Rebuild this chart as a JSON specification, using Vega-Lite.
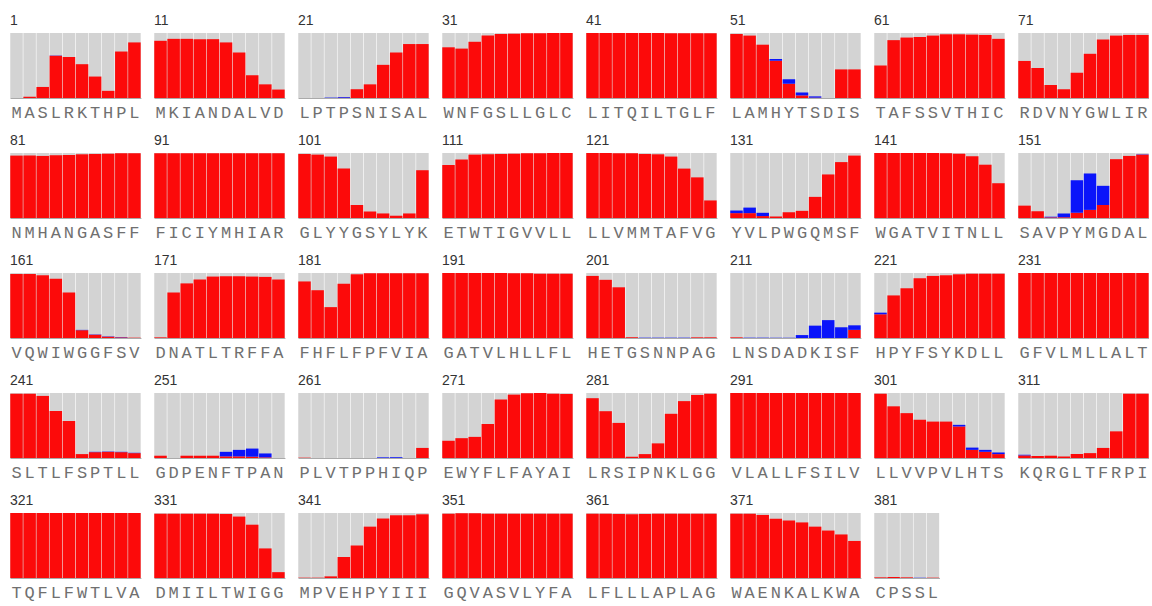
{
"$schema": "https://vega.github.io/schema/vega-lite/v6.json",
"padding": {"left": 10, "top": 14, "right": 0, "bottom": 2},
"background": "white",
"config": {"view": {"stroke": null}},
"data": {"values": [
{"k":"001M","g":1,"r":0,"b":0},{"k":"002A","g":1,"r":0.02,"b":0},{"k":"003S","g":1,"r":0.17,"b":0},{"k":"004L","g":1,"r":0.65,"b":0.005},{"k":"005R","g":1,"r":0.63,"b":0},{"k":"006K","g":1,"r":0.52,"b":0},{"k":"007T","g":1,"r":0.33,"b":0},{"k":"008H","g":1,"r":0.11,"b":0},{"k":"009P","g":1,"r":0.715,"b":0},{"k":"010L","g":1,"r":0.855,"b":0},
{"k":"011M","g":11,"r":0.88,"b":0},{"k":"012K","g":11,"r":0.91,"b":0},{"k":"013I","g":11,"r":0.91,"b":0},{"k":"014A","g":11,"r":0.905,"b":0},{"k":"015N","g":11,"r":0.905,"b":0},{"k":"016D","g":11,"r":0.855,"b":0},{"k":"017A","g":11,"r":0.7,"b":0},{"k":"018L","g":11,"r":0.35,"b":0},{"k":"019V","g":11,"r":0.21,"b":0},{"k":"020D","g":11,"r":0.13,"b":0},
{"k":"021L","g":21,"r":0,"b":0},{"k":"022P","g":21,"r":0,"b":0},{"k":"023T","g":21,"r":0,"b":0.006},{"k":"024P","g":21,"r":0.005,"b":0.01},{"k":"025S","g":21,"r":0.135,"b":0},{"k":"026N","g":21,"r":0.21,"b":0},{"k":"027I","g":21,"r":0.51,"b":0},{"k":"028S","g":21,"r":0.7,"b":0},{"k":"029A","g":21,"r":0.83,"b":0},{"k":"030L","g":21,"r":0.83,"b":0},
{"k":"031W","g":31,"r":0.78,"b":0},{"k":"032N","g":31,"r":0.76,"b":0},{"k":"033F","g":31,"r":0.865,"b":0},{"k":"034G","g":31,"r":0.96,"b":0},{"k":"035S","g":31,"r":0.985,"b":0},{"k":"036L","g":31,"r":0.99,"b":0},{"k":"037L","g":31,"r":0.995,"b":0},{"k":"038G","g":31,"r":0.995,"b":0},{"k":"039L","g":31,"r":1,"b":0},{"k":"040C","g":31,"r":1,"b":0},
{"k":"041L","g":41,"r":1,"b":0},{"k":"042I","g":41,"r":1,"b":0},{"k":"043T","g":41,"r":1,"b":0},{"k":"044Q","g":41,"r":1,"b":0},{"k":"045I","g":41,"r":1,"b":0},{"k":"046L","g":41,"r":1,"b":0},{"k":"047T","g":41,"r":0.995,"b":0},{"k":"048G","g":41,"r":0.995,"b":0},{"k":"049L","g":41,"r":0.995,"b":0},{"k":"050F","g":41,"r":0.995,"b":0},
{"k":"051L","g":51,"r":0.985,"b":0},{"k":"052A","g":51,"r":0.96,"b":0},{"k":"053M","g":51,"r":0.82,"b":0},{"k":"054H","g":51,"r":0.575,"b":0.025},{"k":"055Y","g":51,"r":0.22,"b":0.07},{"k":"056T","g":51,"r":0.04,"b":0.045},{"k":"057S","g":51,"r":0.005,"b":0.02},{"k":"058D","g":51,"r":0,"b":0},{"k":"059I","g":51,"r":0.44,"b":0},{"k":"060S","g":51,"r":0.44,"b":0},
{"k":"061T","g":61,"r":0.5,"b":0},{"k":"062A","g":61,"r":0.89,"b":0},{"k":"063F","g":61,"r":0.93,"b":0},{"k":"064S","g":61,"r":0.94,"b":0},{"k":"065S","g":61,"r":0.96,"b":0},{"k":"066V","g":61,"r":0.98,"b":0},{"k":"067T","g":61,"r":0.98,"b":0},{"k":"068H","g":61,"r":0.975,"b":0},{"k":"069I","g":61,"r":0.97,"b":0},{"k":"070C","g":61,"r":0.91,"b":0},
{"k":"071R","g":71,"r":0.57,"b":0},{"k":"072D","g":71,"r":0.46,"b":0},{"k":"073V","g":71,"r":0.2,"b":0},{"k":"074N","g":71,"r":0.135,"b":0},{"k":"075Y","g":71,"r":0.39,"b":0},{"k":"076G","g":71,"r":0.68,"b":0},{"k":"077W","g":71,"r":0.9,"b":0},{"k":"078L","g":71,"r":0.96,"b":0},{"k":"079I","g":71,"r":0.97,"b":0},{"k":"080R","g":71,"r":0.97,"b":0},
{"k":"081N","g":81,"r":0.96,"b":0},{"k":"082M","g":81,"r":0.96,"b":0},{"k":"083H","g":81,"r":0.955,"b":0},{"k":"084A","g":81,"r":0.965,"b":0},{"k":"085N","g":81,"r":0.97,"b":0},{"k":"086G","g":81,"r":0.98,"b":0},{"k":"087A","g":81,"r":0.985,"b":0},{"k":"088S","g":81,"r":0.99,"b":0},{"k":"089F","g":81,"r":0.995,"b":0},{"k":"090F","g":81,"r":0.995,"b":0},
{"k":"091F","g":91,"r":0.995,"b":0},{"k":"092I","g":91,"r":0.995,"b":0},{"k":"093C","g":91,"r":0.995,"b":0},{"k":"094I","g":91,"r":0.995,"b":0},{"k":"095Y","g":91,"r":0.995,"b":0},{"k":"096M","g":91,"r":0.995,"b":0},{"k":"097H","g":91,"r":0.995,"b":0},{"k":"098I","g":91,"r":0.995,"b":0},{"k":"099A","g":91,"r":0.995,"b":0},{"k":"100R","g":91,"r":0.995,"b":0},
{"k":"101G","g":101,"r":0.985,"b":0},{"k":"102L","g":101,"r":0.975,"b":0},{"k":"103Y","g":101,"r":0.945,"b":0},{"k":"104Y","g":101,"r":0.76,"b":0},{"k":"105G","g":101,"r":0.2,"b":0},{"k":"106S","g":101,"r":0.1,"b":0},{"k":"107Y","g":101,"r":0.07,"b":0},{"k":"108L","g":101,"r":0.035,"b":0},{"k":"109Y","g":101,"r":0.07,"b":0},{"k":"110K","g":101,"r":0.735,"b":0},
{"k":"111E","g":111,"r":0.815,"b":0},{"k":"112T","g":111,"r":0.9,"b":0},{"k":"113W","g":111,"r":0.975,"b":0},{"k":"114T","g":111,"r":0.98,"b":0},{"k":"115I","g":111,"r":0.985,"b":0},{"k":"116G","g":111,"r":0.99,"b":0},{"k":"117V","g":111,"r":0.995,"b":0},{"k":"118V","g":111,"r":0.995,"b":0},{"k":"119L","g":111,"r":1,"b":0},{"k":"120L","g":111,"r":1,"b":0},
{"k":"121L","g":121,"r":1,"b":0},{"k":"122L","g":121,"r":1,"b":0},{"k":"123V","g":121,"r":0.995,"b":0},{"k":"124M","g":121,"r":0.995,"b":0},{"k":"125M","g":121,"r":0.985,"b":0},{"k":"126T","g":121,"r":0.98,"b":0},{"k":"127A","g":121,"r":0.945,"b":0},{"k":"128F","g":121,"r":0.76,"b":0},{"k":"129V","g":121,"r":0.625,"b":0},{"k":"130G","g":121,"r":0.27,"b":0},
{"k":"131Y","g":131,"r":0.075,"b":0.04},{"k":"132V","g":131,"r":0.075,"b":0.085},{"k":"133L","g":131,"r":0.03,"b":0.05},{"k":"134P","g":131,"r":0.025,"b":0},{"k":"135W","g":131,"r":0.09,"b":0},{"k":"136G","g":131,"r":0.11,"b":0},{"k":"137Q","g":131,"r":0.325,"b":0},{"k":"138M","g":131,"r":0.67,"b":0},{"k":"139S","g":131,"r":0.86,"b":0},{"k":"140F","g":131,"r":0.96,"b":0},
{"k":"141W","g":141,"r":1,"b":0},{"k":"142G","g":141,"r":1,"b":0},{"k":"143A","g":141,"r":1,"b":0},{"k":"144T","g":141,"r":1,"b":0},{"k":"145V","g":141,"r":1,"b":0},{"k":"146I","g":141,"r":0.995,"b":0},{"k":"147T","g":141,"r":0.99,"b":0},{"k":"148N","g":141,"r":0.95,"b":0},{"k":"149L","g":141,"r":0.82,"b":0},{"k":"150L","g":141,"r":0.535,"b":0},
{"k":"151S","g":151,"r":0.19,"b":0},{"k":"152A","g":151,"r":0.105,"b":0},{"k":"153V","g":151,"r":0.01,"b":0.01},{"k":"154P","g":151,"r":0.01,"b":0.06},{"k":"155Y","g":151,"r":0.08,"b":0.5},{"k":"156M","g":151,"r":0.125,"b":0.56},{"k":"157G","g":151,"r":0.2,"b":0.295},{"k":"158D","g":151,"r":0.905,"b":0},{"k":"159A","g":151,"r":0.955,"b":0},{"k":"160L","g":151,"r":0.975,"b":0.005},
{"k":"161V","g":161,"r":0.985,"b":0},{"k":"162Q","g":161,"r":0.985,"b":0},{"k":"163W","g":161,"r":0.965,"b":0},{"k":"164I","g":161,"r":0.91,"b":0},{"k":"165W","g":161,"r":0.7,"b":0},{"k":"166G","g":161,"r":0.12,"b":0.005},{"k":"167G","g":161,"r":0.05,"b":0.005},{"k":"168F","g":161,"r":0.02,"b":0.005},{"k":"169S","g":161,"r":0.01,"b":0.005},{"k":"170V","g":161,"r":0.005,"b":0},
{"k":"171D","g":171,"r":0.01,"b":0},{"k":"172N","g":171,"r":0.7,"b":0},{"k":"173A","g":171,"r":0.84,"b":0},{"k":"174T","g":171,"r":0.9,"b":0},{"k":"175L","g":171,"r":0.945,"b":0},{"k":"176T","g":171,"r":0.95,"b":0},{"k":"177R","g":171,"r":0.95,"b":0},{"k":"178F","g":171,"r":0.945,"b":0},{"k":"179F","g":171,"r":0.94,"b":0},{"k":"180A","g":171,"r":0.9,"b":0},
{"k":"181F","g":181,"r":0.87,"b":0},{"k":"182H","g":181,"r":0.735,"b":0},{"k":"183F","g":181,"r":0.475,"b":0},{"k":"184L","g":181,"r":0.835,"b":0},{"k":"185F","g":181,"r":0.98,"b":0},{"k":"186P","g":181,"r":0.995,"b":0},{"k":"187F","g":181,"r":0.995,"b":0},{"k":"188V","g":181,"r":0.995,"b":0},{"k":"189I","g":181,"r":0.995,"b":0},{"k":"190A","g":181,"r":0.995,"b":0},
{"k":"191G","g":191,"r":1,"b":0},{"k":"192A","g":191,"r":1,"b":0},{"k":"193T","g":191,"r":1,"b":0},{"k":"194V","g":191,"r":1,"b":0},{"k":"195L","g":191,"r":1,"b":0},{"k":"196H","g":191,"r":0.995,"b":0},{"k":"197L","g":191,"r":0.995,"b":0},{"k":"198L","g":191,"r":0.99,"b":0},{"k":"199F","g":191,"r":0.99,"b":0},{"k":"200L","g":191,"r":0.99,"b":0},
{"k":"201H","g":201,"r":0.955,"b":0},{"k":"202E","g":201,"r":0.895,"b":0},{"k":"203T","g":201,"r":0.78,"b":0},{"k":"204G","g":201,"r":0.01,"b":0},{"k":"205S","g":201,"r":0,"b":0.005},{"k":"206N","g":201,"r":0,"b":0.005},{"k":"207N","g":201,"r":0,"b":0.005},{"k":"208P","g":201,"r":0,"b":0.005},{"k":"209A","g":201,"r":0.01,"b":0},{"k":"210G","g":201,"r":0.01,"b":0},
{"k":"211L","g":211,"r":0.01,"b":0},{"k":"212N","g":211,"r":0,"b":0.005},{"k":"213S","g":211,"r":0,"b":0.005},{"k":"214D","g":211,"r":0,"b":0.005},{"k":"215A","g":211,"r":0,"b":0.005},{"k":"216D","g":211,"r":0,"b":0.045},{"k":"217K","g":211,"r":0,"b":0.19},{"k":"218I","g":211,"r":0,"b":0.275},{"k":"219S","g":211,"r":0,"b":0.165},{"k":"220F","g":211,"r":0.125,"b":0.07},
{"k":"221H","g":221,"r":0.365,"b":0.025},{"k":"222P","g":221,"r":0.655,"b":0},{"k":"223Y","g":221,"r":0.765,"b":0},{"k":"224F","g":221,"r":0.92,"b":0},{"k":"225S","g":221,"r":0.955,"b":0},{"k":"226Y","g":221,"r":0.965,"b":0},{"k":"227K","g":221,"r":0.98,"b":0},{"k":"228D","g":221,"r":0.99,"b":0},{"k":"229L","g":221,"r":0.99,"b":0},{"k":"230L","g":221,"r":0.99,"b":0},
{"k":"231G","g":231,"r":1,"b":0},{"k":"232F","g":231,"r":1,"b":0},{"k":"233V","g":231,"r":1,"b":0},{"k":"234L","g":231,"r":1,"b":0},{"k":"235M","g":231,"r":1,"b":0},{"k":"236L","g":231,"r":1,"b":0},{"k":"237L","g":231,"r":1,"b":0},{"k":"238A","g":231,"r":1,"b":0},{"k":"239L","g":231,"r":1,"b":0},{"k":"240T","g":231,"r":1,"b":0},
{"k":"241S","g":241,"r":0.99,"b":0},{"k":"242L","g":241,"r":0.99,"b":0},{"k":"243T","g":241,"r":0.955,"b":0},{"k":"244L","g":241,"r":0.725,"b":0},{"k":"245F","g":241,"r":0.57,"b":0},{"k":"246S","g":241,"r":0.06,"b":0},{"k":"247P","g":241,"r":0.09,"b":0.005},{"k":"248T","g":241,"r":0.095,"b":0.005},{"k":"249L","g":241,"r":0.09,"b":0.005},{"k":"250L","g":241,"r":0.075,"b":0.005},
{"k":"251G","g":251,"r":0.035,"b":0},{"k":"252D","g":251,"r":0,"b":0},{"k":"253P","g":251,"r":0.035,"b":0},{"k":"254E","g":251,"r":0.035,"b":0},{"k":"255N","g":251,"r":0.035,"b":0},{"k":"256F","g":251,"r":0.025,"b":0.07},{"k":"257T","g":251,"r":0.025,"b":0.1},{"k":"258P","g":251,"r":0.02,"b":0.125},{"k":"259A","g":251,"r":0.01,"b":0.06},{"k":"260N","g":251,"r":0,"b":0},
{"k":"261P","g":261,"r":0.005,"b":0},{"k":"262L","g":261,"r":0,"b":0},{"k":"263V","g":261,"r":0,"b":0},{"k":"264T","g":261,"r":0,"b":0},{"k":"265P","g":261,"r":0,"b":0},{"k":"266P","g":261,"r":0,"b":0},{"k":"267H","g":261,"r":0,"b":0.01},{"k":"268I","g":261,"r":0,"b":0.012},{"k":"269Q","g":261,"r":0,"b":0},{"k":"270P","g":261,"r":0.155,"b":0},
{"k":"271E","g":271,"r":0.265,"b":0},{"k":"272W","g":271,"r":0.305,"b":0},{"k":"273Y","g":271,"r":0.325,"b":0},{"k":"274F","g":271,"r":0.525,"b":0},{"k":"275L","g":271,"r":0.9,"b":0},{"k":"276F","g":271,"r":0.975,"b":0},{"k":"277A","g":271,"r":0.995,"b":0},{"k":"278Y","g":271,"r":1,"b":0},{"k":"279A","g":271,"r":0.99,"b":0},{"k":"280I","g":271,"r":0.985,"b":0},
{"k":"281L","g":281,"r":0.92,"b":0},{"k":"282R","g":281,"r":0.72,"b":0},{"k":"283S","g":281,"r":0.54,"b":0},{"k":"284I","g":281,"r":0.02,"b":0},{"k":"285P","g":281,"r":0.06,"b":0},{"k":"286N","g":281,"r":0.225,"b":0},{"k":"287K","g":281,"r":0.68,"b":0},{"k":"288L","g":281,"r":0.875,"b":0},{"k":"289G","g":281,"r":0.97,"b":0},{"k":"290G","g":281,"r":0.99,"b":0},
{"k":"291V","g":291,"r":1,"b":0},{"k":"292L","g":291,"r":1,"b":0},{"k":"293A","g":291,"r":1,"b":0},{"k":"294L","g":291,"r":1,"b":0},{"k":"295L","g":291,"r":1,"b":0},{"k":"296F","g":291,"r":1,"b":0},{"k":"297S","g":291,"r":1,"b":0},{"k":"298I","g":291,"r":1,"b":0},{"k":"299L","g":291,"r":1,"b":0},{"k":"300V","g":291,"r":1,"b":0},
{"k":"301L","g":301,"r":0.99,"b":0},{"k":"302L","g":301,"r":0.795,"b":0},{"k":"303V","g":301,"r":0.69,"b":0},{"k":"304V","g":301,"r":0.59,"b":0},{"k":"305P","g":301,"r":0.56,"b":0},{"k":"306V","g":301,"r":0.56,"b":0},{"k":"307L","g":301,"r":0.485,"b":0.025},{"k":"308H","g":301,"r":0.125,"b":0.035},{"k":"309T","g":301,"r":0.095,"b":0.03},{"k":"310S","g":301,"r":0.06,"b":0.025},
{"k":"311K","g":311,"r":0.04,"b":0.01},{"k":"312Q","g":311,"r":0.03,"b":0},{"k":"313R","g":311,"r":0.035,"b":0},{"k":"314G","g":311,"r":0.025,"b":0},{"k":"315L","g":311,"r":0.06,"b":0},{"k":"316T","g":311,"r":0.075,"b":0},{"k":"317F","g":311,"r":0.155,"b":0},{"k":"318R","g":311,"r":0.41,"b":0},{"k":"319P","g":311,"r":0.99,"b":0},{"k":"320I","g":311,"r":0.99,"b":0},
{"k":"321T","g":321,"r":1,"b":0},{"k":"322Q","g":321,"r":1,"b":0},{"k":"323F","g":321,"r":1,"b":0},{"k":"324L","g":321,"r":1,"b":0},{"k":"325F","g":321,"r":1,"b":0},{"k":"326W","g":321,"r":1,"b":0},{"k":"327T","g":321,"r":1,"b":0},{"k":"328L","g":321,"r":1,"b":0},{"k":"329V","g":321,"r":1,"b":0},{"k":"330A","g":321,"r":1,"b":0},
{"k":"331D","g":331,"r":0.99,"b":0},{"k":"332M","g":331,"r":0.99,"b":0},{"k":"333I","g":331,"r":0.99,"b":0},{"k":"334I","g":331,"r":0.99,"b":0},{"k":"335L","g":331,"r":0.99,"b":0},{"k":"336T","g":331,"r":0.985,"b":0},{"k":"337W","g":331,"r":0.945,"b":0},{"k":"338I","g":331,"r":0.82,"b":0},{"k":"339G","g":331,"r":0.455,"b":0},{"k":"340G","g":331,"r":0.09,"b":0},
{"k":"341M","g":341,"r":0.005,"b":0},{"k":"342P","g":341,"r":0.005,"b":0},{"k":"343V","g":341,"r":0.025,"b":0},{"k":"344E","g":341,"r":0.325,"b":0},{"k":"345H","g":341,"r":0.5,"b":0},{"k":"346P","g":341,"r":0.79,"b":0},{"k":"347Y","g":341,"r":0.915,"b":0},{"k":"348I","g":341,"r":0.965,"b":0},{"k":"349I","g":341,"r":0.965,"b":0},{"k":"350I","g":341,"r":0.98,"b":0},
{"k":"351G","g":351,"r":0.99,"b":0},{"k":"352Q","g":351,"r":0.995,"b":0},{"k":"353V","g":351,"r":0.995,"b":0},{"k":"354A","g":351,"r":0.99,"b":0},{"k":"355S","g":351,"r":0.99,"b":0},{"k":"356V","g":351,"r":0.99,"b":0},{"k":"357L","g":351,"r":0.99,"b":0},{"k":"358Y","g":351,"r":0.99,"b":0},{"k":"359F","g":351,"r":0.99,"b":0},{"k":"360A","g":351,"r":0.99,"b":0},
{"k":"361L","g":361,"r":0.99,"b":0},{"k":"362F","g":361,"r":0.99,"b":0},{"k":"363L","g":361,"r":0.985,"b":0},{"k":"364L","g":361,"r":0.98,"b":0},{"k":"365L","g":361,"r":0.985,"b":0},{"k":"366A","g":361,"r":0.99,"b":0},{"k":"367P","g":361,"r":0.99,"b":0},{"k":"368L","g":361,"r":0.99,"b":0},{"k":"369A","g":361,"r":0.99,"b":0},{"k":"370G","g":361,"r":0.99,"b":0},
{"k":"371W","g":371,"r":0.99,"b":0},{"k":"372A","g":371,"r":0.99,"b":0},{"k":"373E","g":371,"r":0.97,"b":0},{"k":"374N","g":371,"r":0.91,"b":0},{"k":"375K","g":371,"r":0.885,"b":0},{"k":"376A","g":371,"r":0.855,"b":0},{"k":"377L","g":371,"r":0.79,"b":0},{"k":"378K","g":371,"r":0.73,"b":0},{"k":"379W","g":371,"r":0.67,"b":0},{"k":"380A","g":371,"r":0.57,"b":0},
{"k":"381C","g":381,"r":0.01,"b":0},{"k":"382P","g":381,"r":0.015,"b":0},{"k":"383S","g":381,"r":0.01,"b":0},{"k":"384S","g":381,"r":0,"b":0.005},{"k":"385L","g":381,"r":0.005,"b":0}
]},
"facet": {"field": "g", "type": "ordinal", "header": {"title": null, "labelFont": "Liberation Sans", "labelFontSize": 14, "labelColor": "#333333", "labelAnchor": "start", "labelAlign": "left", "labelPadding": 5}},
"columns": 8,
"spacing": {"column": 13, "row": 14},
"resolve": {"scale": {"x": "independent"}, "axis": {"x": "independent"}},
"spec": {
  "width": {"step": 13.1},
  "height": 65,
  "layer": [
    {
      "mark": {"type": "bar", "color": "#d3d3d3"},
      "encoding": {
        "x": {"field": "k", "type": "nominal", "sort": "ascending",
              "scale": {"paddingInner": 0.045, "paddingOuter": 0.02},
              "axis": {"title": null, "ticks": false, "tickSize": 0, "labelAngle": 0, "labelPadding": 6,
                       "labelExpr": "substring(datum.label, 3)", "labelOverlap": false,
                       "labelFont": "Liberation Mono", "labelFontSize": 17, "labelColor": "#707070",
                       "domainColor": "#aaaaaa", "domainWidth": 1}},
        "y": {"datum": 1, "type": "quantitative", "scale": {"domain": [0, 1], "nice": false}, "axis": null}
      }
    },
    {
      "transform": [{"fold": ["r", "b"], "as": ["cls", "v"]}],
      "mark": {"type": "bar"},
      "encoding": {
        "x": {"field": "k", "type": "nominal", "sort": "ascending"},
        "y": {"field": "v", "type": "quantitative", "stack": "zero", "axis": null},
        "color": {"field": "cls", "type": "nominal", "scale": {"domain": ["r", "b"], "range": ["#fc0a0a", "#0a14fa"]}, "legend": null},
        "order": {"field": "cls", "sort": "descending"}
      }
    }
  ]
}
}
